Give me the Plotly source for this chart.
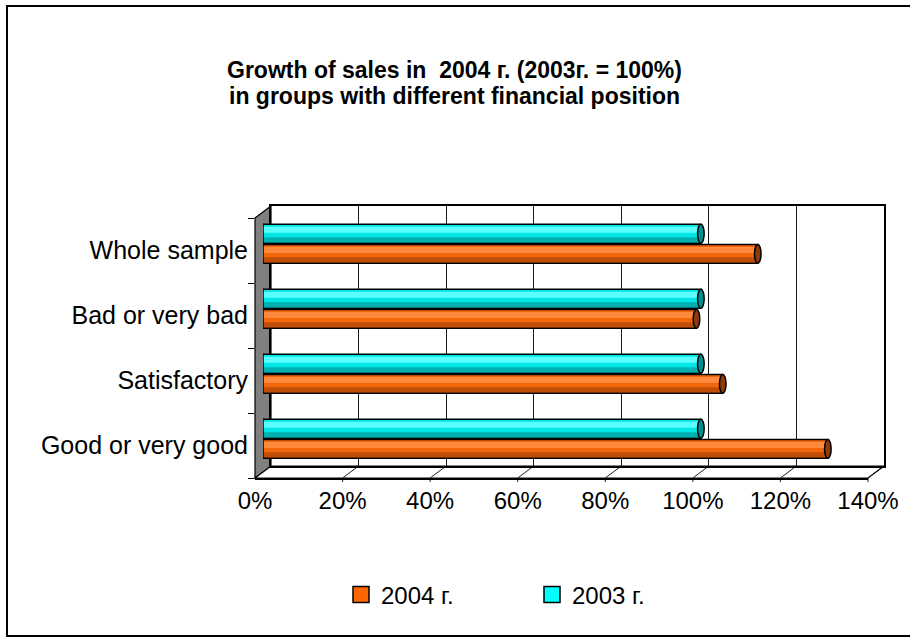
import plotly.graph_objects as go

# ---- data ---------------------------------------------------------------
categories = ["Good or very good", "Satisfactory", "Bad or very bad", "Whole sample"]
sales_2003 = [100, 100, 100, 100]
sales_2004 = [129, 105, 99, 113]
x_ticks = [0, 20, 40, 60, 80, 100, 120, 140]
x_tick_text = [f"{v}%" for v in x_ticks]
series_names = ["2004 г.", "2003 г."]
title_lines = ["Growth of sales in  2004 г. (2003г. = 100%)",
               "in groups with different financial position"]

# ---- page geometry (pixels) ---------------------------------------------
W, H = 910, 637


def px(x):
    return x / W


def py(y):
    return 1 - y / H


FX0, FX1 = 255, 868      # front edge of the floor (0% .. 140%)
FY0, FY1 = 218, 478      # front top / bottom
DX, DY = 16, -12         # depth offset towards the back wall
MX, MY = DX / 2, DY / 2  # bars sit half way in depth
X_MAX = 140

FONT = "Liberation Sans, Arial, sans-serif"
BLACK = "#000000"

ORANGE = dict(base="#F2660C", light="#FF8A3D", shade="#C04E06", cap="#8E3B0C", key="#FF6600")
CYAN = dict(base="#00E6E6", light="#5CFFFF", shade="#00B0B0", cap="#008F8F", key="#00FFFF")

BAR_W = 0.29
fig = go.Figure()

# ---- cylinders ----------------------------------------------------------
bar_sets = [
    (sales_2003, CYAN, 0.02),
    (sales_2004, ORANGE, -0.29),
]
shapes = []
for values, col, off in bar_sets:
    common = dict(y=categories, x=values, orientation="h", xaxis="x3", yaxis="y3",
                  showlegend=False, hoverinfo="skip")
    fig.add_trace(go.Bar(**common, width=BAR_W, offset=off,
                         marker=dict(color=col["base"], line=dict(width=0))))
    fig.add_trace(go.Bar(**common, width=BAR_W * 0.32, offset=off + BAR_W * 0.55,
                         marker=dict(color=col["light"], line=dict(width=0))))
    fig.add_trace(go.Bar(**common, width=BAR_W * 0.26, offset=off + BAR_W * 0.06,
                         marker=dict(color=col["shade"], line=dict(width=0))))
    fig.add_trace(go.Bar(**common, width=BAR_W, offset=off,
                         marker=dict(color="rgba(0,0,0,0)", line=dict(color=BLACK, width=1.5))))
    for i, v in enumerate(values):
        # rounded left end
        shapes.append(dict(type="circle", xref="x3", yref="y3", layer="below",
                           x0=-0.8, x1=0.8, y0=i + off, y1=i + off + BAR_W,
                           fillcolor=col["base"], line=dict(color=BLACK, width=1.5)))
        # end cap
        shapes.append(dict(type="circle", xref="x3", yref="y3", layer="above",
                           x0=v - 0.75, x1=v + 0.75, y0=i + off, y1=i + off + BAR_W,
                           fillcolor=col["cap"], line=dict(color=BLACK, width=1.5)))

# legend entries
for name, col in zip(series_names, [ORANGE, CYAN]):
    fig.add_trace(go.Scatter(x=[None], y=[None], mode="markers", name=name,
                             xaxis="x3", yaxis="y3",
                             marker=dict(symbol="square", size=16, color=col["key"],
                                         line=dict(color=BLACK, width=1.5))))

# placeholders so the wall and front-axis subplots exist
fig.add_trace(go.Scatter(x=[None], y=[None], xaxis="x", yaxis="y", showlegend=False))
fig.add_trace(go.Scatter(x=[None], y=[categories[0]], xaxis="x2", yaxis="y2", showlegend=False))

# ---- box walls ------------------------------------------------------------
# outer frame
shapes.append(dict(type="rect", xref="paper", yref="paper", layer="below",
                   x0=px(7), x1=px(915), y0=py(636), y1=py(6),
                   line=dict(color=BLACK, width=2), fillcolor="white"))
# left wall
shapes.append(dict(type="path", xref="paper", yref="paper", layer="below",
                   path=(f"M{px(FX0)},{py(FY0)} L{px(FX0 + DX)},{py(FY0 + DY)} "
                         f"L{px(FX0 + DX)},{py(FY1 + DY)} L{px(FX0)},{py(FY1)} Z"),
                   fillcolor="#808080", line=dict(color=BLACK, width=1.2)))
# floor
shapes.append(dict(type="path", xref="paper", yref="paper", layer="below",
                   path=(f"M{px(FX0)},{py(FY1)} L{px(FX1)},{py(FY1)} "
                         f"L{px(FX1 + DX)},{py(FY1 + DY)} L{px(FX0 + DX)},{py(FY1 + DY)} Z"),
                   fillcolor="white", line=dict(color=BLACK, width=1.2)))
# floor lines from each front tick back to the wall, plus the short tick marks
depth_units = DX * X_MAX / (FX1 - FX0)
for v in x_ticks:
    shapes.append(dict(type="line", xref="x", yref="paper", layer="below",
                       x0=v - depth_units, x1=v, y0=py(FY1), y1=py(FY1 + DY),
                       line=dict(color="#222222", width=1)))
    shapes.append(dict(type="line", xref="x", yref="paper", layer="below",
                       x0=v - depth_units, x1=v - depth_units, y0=py(FY1), y1=py(FY1 + 4),
                       line=dict(color="#222222", width=1)))

axis_off = dict(automargin=False)
fig.update_layout(
    width=W, height=H,
    margin=dict(l=0, r=0, t=0, b=0, pad=0, autoexpand=False),
    paper_bgcolor="white",
    plot_bgcolor="rgba(0,0,0,0)",
    barmode="overlay",
    font=dict(family=FONT, size=24, color=BLACK),
    shapes=shapes,
    # back wall with the gridlines
    xaxis=dict(domain=[px(FX0 + DX), px(FX1 + DX)], range=[0, X_MAX], anchor="y",
               tickvals=x_ticks, showticklabels=False, ticks="",
               showgrid=True, gridcolor="#1a1a1a", gridwidth=1, zeroline=False,
               showline=True, mirror=True, linecolor=BLACK, linewidth=1.5, **axis_off),
    yaxis=dict(domain=[py(FY1 + DY), py(FY0 + DY)], range=[0, 1], anchor="x",
               showticklabels=False, ticks="", showgrid=False, zeroline=False,
               showline=True, mirror=True, linecolor=BLACK, linewidth=1.5, **axis_off),
    # front axes carrying the labels
    xaxis2=dict(domain=[px(FX0), px(FX1)], range=[0, X_MAX], anchor="y2",
                tickvals=x_ticks, ticktext=x_tick_text, ticks="",
                showgrid=False, zeroline=False,
                showline=True, linecolor=BLACK, linewidth=1.5,
                tickfont=dict(size=24, family=FONT), **axis_off),
    yaxis2=dict(domain=[py(FY1), py(FY0)], type="category", categoryorder="array",
                categoryarray=categories, range=[-0.5, 3.5], anchor="x2",
                ticks="outside", tickson="boundaries", ticklen=6, tickcolor=BLACK,
                ticklabelstandoff=6,
                showgrid=False, zeroline=False, showline=False,
                tickfont=dict(size=25, family=FONT), **axis_off),
    # bars, half way between front and back
    xaxis3=dict(domain=[px(FX0 + MX), px(FX1 + MX)], range=[0, X_MAX], anchor="y3",
                visible=False, **axis_off),
    yaxis3=dict(domain=[py(FY1 + MY), py(FY0 + MY)], type="category", categoryorder="array",
                categoryarray=categories, range=[-0.5, 3.5], anchor="x3", visible=False,
                **axis_off),
    legend=dict(orientation="h", x=px(341), xanchor="left", y=py(595), yanchor="middle",
                font=dict(size=24, family=FONT), bgcolor="rgba(0,0,0,0)",
                itemsizing="trace", entrywidth=146, entrywidthmode="pixels"),
    showlegend=True,
    annotations=[
        dict(text=f"<b>{title_lines[0]}</b>", xref="paper", yref="paper",
             x=px(454), y=py(70), xanchor="center", yanchor="middle", showarrow=False,
             font=dict(size=23, family=FONT, color=BLACK)),
        dict(text=f"<b>{title_lines[1]}</b>", xref="paper", yref="paper",
             x=px(454), y=py(96), xanchor="center", yanchor="middle", showarrow=False,
             font=dict(size=23, family=FONT, color=BLACK)),
    ],
)

fig.write_html("out.html")
